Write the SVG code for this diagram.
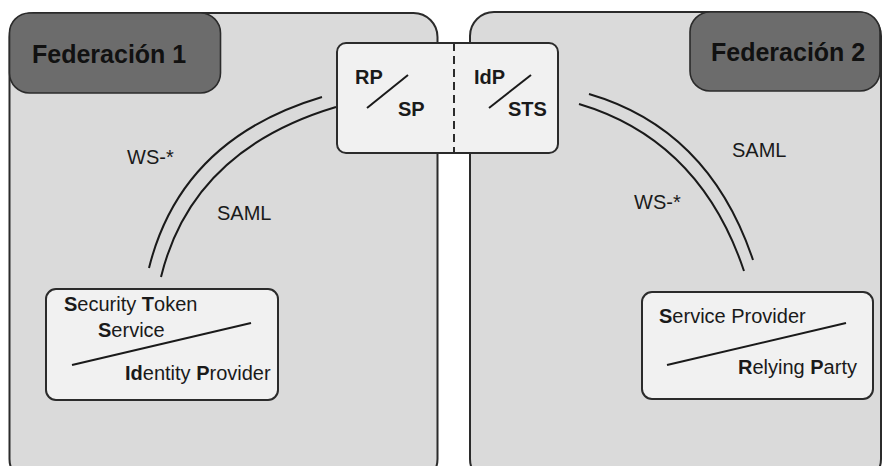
<svg xmlns="http://www.w3.org/2000/svg" width="883" height="466" viewBox="0 0 883 466">
  <style>
    .panel { fill: #dadada; stroke: #2b2b2b; stroke-width: 2; }
    .tag { fill: #6c6c6c; stroke: #2b2b2b; stroke-width: 1.6; }
    .tag-text { font-family: "Liberation Sans", Arial, sans-serif; font-weight: bold; font-size: 25px; fill: #111; }
    .box { fill: #f1f1f1; stroke: #2b2b2b; stroke-width: 2; }
    .txt { font-family: "Liberation Sans", Arial, sans-serif; font-size: 20px; fill: #1a1a1a; }
    .b { font-weight: bold; }
    .slash { stroke: #1a1a1a; stroke-width: 2; fill: none; }
    .link { stroke: #1a1a1a; stroke-width: 2; fill: none; }
  </style>
  <rect width="883" height="466" fill="#ffffff"/>

  <!-- Federation 1 area -->
  <g id="federacion1">
    <rect class="panel" x="9.5" y="13" width="428" height="470" rx="24"/>
    <rect class="tag" x="9.5" y="13" width="211" height="80" rx="20"/>
    <text class="tag-text" x="32" y="63">Federación 1</text>
  </g>

  <!-- Federation 2 area -->
  <g id="federacion2">
    <rect class="panel" x="470" y="12" width="411" height="471" rx="24"/>
    <rect class="tag" x="690" y="12" width="190" height="79" rx="20"/>
    <text class="tag-text" x="711" y="61">Federación 2</text>
  </g>

  <!-- protocol links -->
  <g id="connectors">
    <path class="link" d="M149,268 Q181,139 322,97"/>
    <path class="link" d="M161,277 Q192,150 336,107"/>
    <path class="link" d="M589,94 Q709,129 753,260"/>
    <path class="link" d="M579,104 Q700,140 744,271"/>
    <text class="txt" x="127" y="164">WS-*</text>
    <text class="txt" x="217" y="220">SAML</text>
    <text class="txt" x="732" y="157">SAML</text>
    <text class="txt" x="634" y="209">WS-*</text>
  </g>

  <!-- bridge between federations -->
  <g id="bridge">
    <rect class="box" x="337" y="43" width="221" height="110" rx="9"/>
    <line x1="454" y1="43" x2="454" y2="153" stroke="#2b2b2b" stroke-width="2" stroke-dasharray="8,5"/>
    <text class="txt b" x="355" y="84">RP</text>
    <line class="slash" x1="367" y1="108" x2="408" y2="75"/>
    <text class="txt b" x="398" y="116">SP</text>
    <text class="txt b" x="474" y="84">IdP</text>
    <line class="slash" x1="489" y1="108" x2="531" y2="75"/>
    <text class="txt b" x="508" y="116">STS</text>
  </g>

  <!-- STS / IdP -->
  <g id="sts-idp">
    <rect class="box" x="46" y="289" width="232" height="111" rx="10"/>
    <text class="txt" x="64" y="311"><tspan class="b">S</tspan>ecurity <tspan class="b">T</tspan>oken</text>
    <text class="txt" x="98" y="337"><tspan class="b">S</tspan>ervice</text>
    <line class="slash" x1="72" y1="365" x2="251" y2="323"/>
    <text class="txt" x="125" y="380"><tspan class="b">Id</tspan>entity <tspan class="b">P</tspan>rovider</text>
  </g>

  <!-- SP / RP -->
  <g id="sp-rp">
    <rect class="box" x="642" y="292" width="231" height="107" rx="10"/>
    <text class="txt" x="659" y="323"><tspan class="b">S</tspan>ervice Provider</text>
    <line class="slash" x1="667" y1="365" x2="846" y2="323"/>
    <text class="txt" x="738" y="374"><tspan class="b">R</tspan>elying <tspan class="b">P</tspan>arty</text>
  </g>
</svg>
